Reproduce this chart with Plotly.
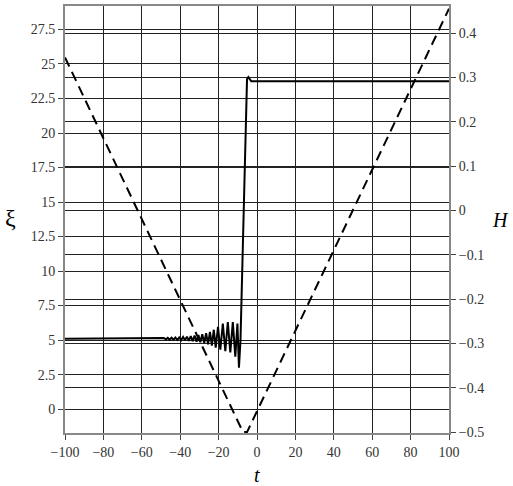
import plotly.graph_objects as go

# Solid curve: xi(t)
xi_t = [-100, -50, -48.5, -47.5, -46.5, -45.5, -44.5, -43.5, -42.5, -41.5, -40.5,
        -39.5, -38.5, -37.5, -36.5, -35.5, -34.5, -33.5, -32.5, -31.5, -30.5,
        -29.5, -28.5, -27.5, -26.5, -25.5, -24.5, -23.5, -22.5, -21.5, -20.3,
        -19.1, -17.8, -16.5, -15.2, -13.9, -12.6, -11.3, -10.2, -9.4, -8.6,
        -5.2, -4.5, -3.0, 100]
xi_v = [5.1, 5.1, 5.15, 5.05, 5.16, 5.04, 5.17, 5.03, 5.18, 5.02, 5.2,
        5.0, 5.22, 4.98, 5.25, 4.95, 5.28, 4.92, 5.32, 4.88, 5.36,
        4.84, 5.42, 4.78, 5.5, 4.7, 5.6, 4.6, 5.75, 4.45, 5.95,
        4.3, 6.2, 4.2, 6.3, 4.1, 6.3, 3.8, 6.2, 3.0, 5.0,
        23.9, 24.05, 23.75, 23.75]

# Dashed curve: H(t)
H_t = [-100, -7.3, -5.2, 100]
H_v = [0.345, -0.5, -0.5, 0.455]

x_ticks = [-100, -80, -60, -40, -20, 0, 20, 40, 60, 80, 100]
xi_ticks = [0, 2.5, 5, 7.5, 10, 12.5, 15, 17.5, 20, 22.5, 25, 27.5]
H_ticks = [-0.5, -0.4, -0.3, -0.2, -0.1, 0, 0.1, 0.2, 0.3, 0.4]

SERIF = "Liberation Serif, Times New Roman, DejaVu Serif, serif"

fig = go.Figure()
fig.add_trace(go.Scatter(x=xi_t, y=xi_v, mode="lines",
                         line=dict(color="black", width=2), yaxis="y"))
fig.add_trace(go.Scatter(x=H_t, y=H_v, mode="lines",
                         line=dict(color="black", width=2, dash="10px,6px"),
                         yaxis="y2"))

font = dict(family=SERIF, size=14, color="#333")
fig.update_layout(
    width=513, height=486,
    margin=dict(l=65, r=64, t=4, b=53),
    paper_bgcolor="white", plot_bgcolor="white",
    showlegend=False,
    font=font,
    xaxis=dict(range=[-100, 100], tickvals=x_ticks,
               ticktext=[("%g" % v).replace("-", "\u2212") for v in x_ticks],
               showgrid=True, gridcolor="#222", gridwidth=1,
               zeroline=False, showline=True, linecolor="#888", linewidth=2,
               mirror=True, ticks="outside", ticklen=5, tickcolor="#444",
               tickfont=font),
    yaxis=dict(range=[-1.73, 29.2], tickvals=xi_ticks,
               ticktext=[("%g" % v) for v in xi_ticks],
               showgrid=True, gridcolor="#222", gridwidth=1,
               zeroline=False, showline=True, linecolor="#888", linewidth=2,
               ticks="outside", ticklen=5, tickcolor="#444", tickfont=font),
    yaxis2=dict(range=[-0.502, 0.461], tickvals=H_ticks,
                ticktext=[("%g" % v).replace("-", "\u2212") for v in H_ticks],
                overlaying="y", side="right",
                showgrid=True, gridcolor="#222", gridwidth=1,
                zeroline=False, showline=True, linecolor="#888", linewidth=2,
                ticks="outside", ticklen=5, tickcolor="#444", tickfont=font),
    annotations=[
        dict(text="\u03be", xref="paper", yref="paper", x=-0.143, y=0.503,
             xanchor="center", yanchor="middle",
             showarrow=False, font=dict(family=SERIF, size=24, color="black")),
        dict(text="<i>H</i>", xref="paper", yref="paper", x=1.133, y=0.499,
             xanchor="center", yanchor="middle",
             showarrow=False, font=dict(family=SERIF, size=20, color="black")),
        dict(text="<i>t</i>", xref="paper", yref="paper", x=0.5, y=-0.098,
             xanchor="center", yanchor="middle",
             showarrow=False, font=dict(family=SERIF, size=20, color="black")),
    ],
)
fig.write_html("out.html")
